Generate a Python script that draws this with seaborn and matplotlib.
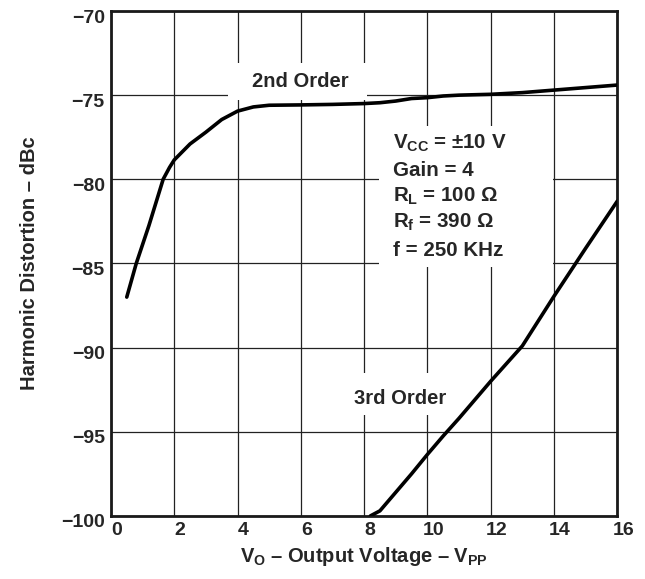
import numpy as np
import pandas as pd
import matplotlib
matplotlib.use('Agg')
import matplotlib.pyplot as plt
import matplotlib.transforms as mtransforms
from matplotlib.patches import Rectangle
import seaborn as sns

# Curve data
SECOND_X = [0.5, 0.8, 1.2, 1.65, 1.85, 2.0, 2.5, 3.0, 3.5, 4.0, 4.5, 5.0,
            6.0, 7.0, 8.0, 8.5, 9.0, 9.5, 10.0, 10.5, 11.0, 12.0, 13.0, 14.0,
            15.0, 16.0]
SECOND_Y = [-87.0, -85.0, -82.75, -80.0, -79.3, -78.85, -77.9, -77.2, -76.45,
            -75.95, -75.7, -75.6, -75.58, -75.55, -75.5, -75.45, -75.35,
            -75.2, -75.15, -75.05, -75.0, -74.95, -74.85, -74.7, -74.55, -74.4]

THIRD_X = [8.2, 8.5, 9.0, 9.5, 10.0, 10.5, 11.0, 12.0, 13.0, 14.0, 15.0, 16.0]
THIRD_Y = [-100.0, -99.7, -98.6, -97.5, -96.35, -95.25, -94.2, -92.0, -89.9,
           -86.95, -84.1, -81.3]

X_TICKS = [0, 2, 4, 6, 8, 10, 12, 14, 16]
Y_TICKS = [-100, -95, -90, -85, -80, -75, -70]

CONDITIONS = [r'$V_{CC}$ = ±10 V', 'Gain = 4', r'$R_L$ = 100 Ω',
              r'$R_f$ = 390 Ω', 'f = 250 KHz']

sns.set_theme(style='white')
plt.rcParams['font.family'] = ['Liberation Sans', 'DejaVu Sans']
plt.rcParams['font.weight'] = 'bold'
plt.rcParams['mathtext.fontset'] = 'custom'
plt.rcParams['mathtext.rm'] = 'Liberation Sans:bold'
plt.rcParams['mathtext.it'] = 'Liberation Sans:bold'
plt.rcParams['mathtext.bf'] = 'Liberation Sans:bold'

df2 = pd.DataFrame({'x': SECOND_X, 'y': SECOND_Y})
df3 = pd.DataFrame({'x': THIRD_X, 'y': THIRD_Y})

fig = plt.figure(figsize=(6.45, 5.79), dpi=100)
ax = fig.add_axes([0.172, 0.109, 0.785, 0.872])

line_kw = dict(color='black', lw=2.6, zorder=4,
               solid_joinstyle='round', solid_capstyle='round')
sns.lineplot(data=df2, x='x', y='y', ax=ax, **line_kw)
sns.lineplot(data=df3, x='x', y='y', ax=ax, **line_kw)

ax.set_xlim(0, 16)
ax.set_ylim(-100, -70)
ax.set_xticks(X_TICKS)
ax.set_yticks(Y_TICKS)
ax.set_xticklabels([str(v) for v in X_TICKS])
ax.set_yticklabels([str(v).replace('-', '\u2212') for v in Y_TICKS])
ax.grid(True, color='#222222', lw=0.9)
ax.set_axisbelow(True)
ax.tick_params(length=0, labelsize=14, pad=4.5)
for lab in ax.get_xticklabels():
    lab.set_fontweight('bold')
    lab.set_transform(lab.get_transform() +
                      mtransforms.ScaledTranslation(0.06, 0, fig.dpi_scale_trans))
for lab in ax.get_yticklabels():
    lab.set_fontweight('bold')
    lab.set_transform(lab.get_transform() +
                      mtransforms.ScaledTranslation(0, -0.05, fig.dpi_scale_trans))

for sp in ax.spines.values():
    sp.set_visible(True)
    sp.set_color('#1a1a1a')
    sp.set_linewidth(2.0)

# white boxes that cut the grid behind the labels
for (x0, y0, w, h) in [(3.7, -75.3, 4.4, 2.2), (7.26, -93.98, 3.87, 2.5),
                       (8.46, -85.19, 5.5, 8.37)]:
    ax.add_patch(Rectangle((x0, y0), w, h, facecolor='white',
                           edgecolor='none', zorder=2))

ax.text(0.374, 0.850, '2nd Order', transform=ax.transAxes, ha='center',
        va='baseline', fontsize=14.5, fontweight='bold', zorder=5)
ax.text(0.571, 0.222, '3rd Order', transform=ax.transAxes, ha='center',
        va='baseline', fontsize=14.5, fontweight='bold', zorder=5)

for txt, yy in zip(CONDITIONS, [0.727, 0.673, 0.622, 0.570, 0.515]):
    ax.text(0.557, yy, txt, transform=ax.transAxes, ha='left', va='baseline',
            fontsize=14.8, fontweight='bold', zorder=5)

ax.set_xlabel(r'$V_O$ – Output Voltage – $V_{PP}$', fontsize=14.5,
              fontweight='bold', labelpad=4)
ax.set_ylabel('Harmonic Distortion – dBc', fontsize=14.5,
              fontweight='bold', labelpad=16)

fig.savefig('out.png', dpi=100)
